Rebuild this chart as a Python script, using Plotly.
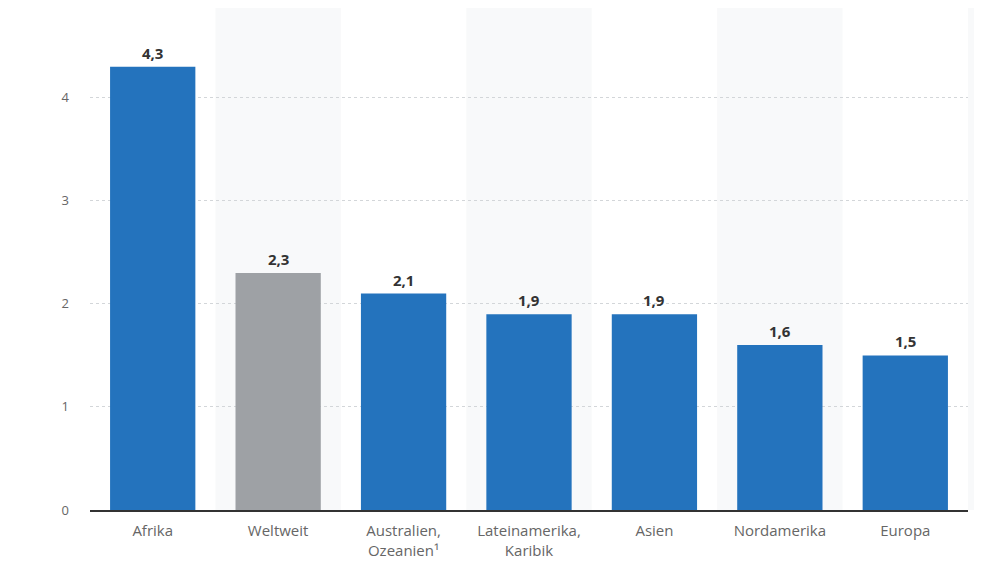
import plotly.graph_objects as go

categories = ["Afrika", "Weltweit", "Australien,<br>Ozeanien¹", "Lateinamerika,<br>Karibik", "Asien", "Nordamerika", "Europa"]
values = [4.3, 2.3, 2.1, 1.9, 1.9, 1.6, 1.5]
bar_colors = ["#2473bd", "#9ea1a5", "#2473bd", "#2473bd", "#2473bd", "#2473bd", "#2473bd"]
y_ticks = [0, 1, 2, 3, 4]

FONT = "Open Sans"

fig = go.Figure()
fig.add_trace(go.Bar(
    x=list(range(len(categories))),
    y=values,
    marker=dict(color=bar_colors, line=dict(width=0)),
    hoverinfo="skip",
))

annotations = []
for i, v in enumerate(values):
    annotations.append(dict(
        x=i, y=v, xref="x", yref="y", text=f"{v:.1f}".replace(".", ","),
        showarrow=False, yanchor="bottom", yshift=2,
        font=dict(family=FONT, size=15, color="#333333", weight="bold"),
    ))

shapes = []
for i in range(1, len(categories) + 1, 2):
    if i < len(categories):
        shapes.append(dict(type="rect", xref="x", yref="paper", x0=i - 0.5, x1=i + 0.5, y0=0, y1=1,
                           fillcolor="#f8f9fa", line=dict(width=0), layer="below"))
    else:
        shapes.append(dict(type="rect", xref="paper", yref="paper", x0=1.0, x1=1.2, y0=0, y1=1,
                           fillcolor="#f8f9fa", line=dict(width=0), layer="below"))

fig.update_layout(
    width=974, height=565,
    margin=dict(l=82, r=14, t=0, b=63),
    paper_bgcolor="white", plot_bgcolor="white",
    showlegend=False,
    bargap=0.32,
    separators=",.",
    shapes=shapes,
    annotations=annotations,
    font=dict(family=FONT, size=15, color="#666666"),
    xaxis=dict(
        tickmode="array", tickvals=list(range(len(categories))), ticktext=categories,
        range=[-0.5, len(categories) - 0.5],
        showgrid=False, zeroline=False,
        showline=True, linecolor="#333333", linewidth=2,
        ticks="", ticklabelstandoff=6,
        tickfont=dict(family=FONT, size=15, color="#666666"),
    ),
    yaxis=dict(
        range=[0, 4.87], tickvals=y_ticks,
        showgrid=True, gridcolor="#d3d6d9", griddash="dot", gridwidth=1,
        zeroline=False, showline=False, ticks="", ticklabelstandoff=20,
        tickfont=dict(family=FONT, size=13, color="#666666"),
    ),
)

fig.write_html("out.html")
